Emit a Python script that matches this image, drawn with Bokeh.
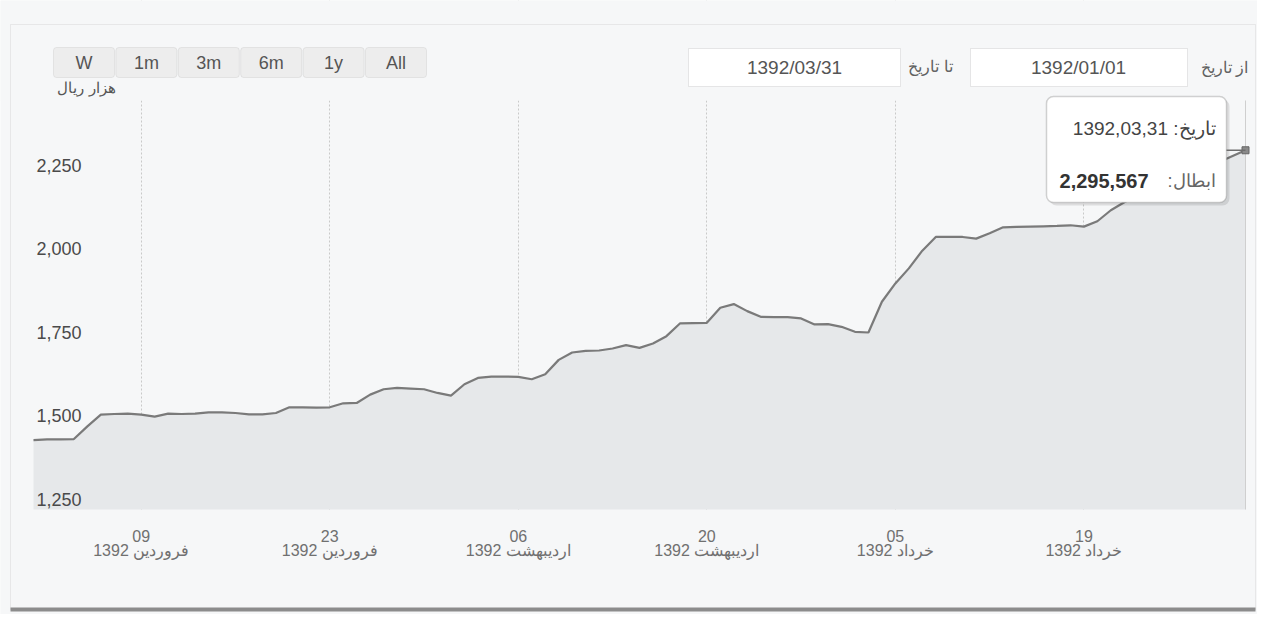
from bokeh.plotting import figure
from bokeh.models import Range1d, FixedTicker, NumeralTickFormatter, Label, BoxAnnotation
from bokeh.embed import file_html
from bokeh.resources import INLINE

# ---------------- data (thousand rials, one value per trading day) ----------------
day_index = list(range(91))
redemption_price = [
    1428, 1430, 1430, 1431, 1469, 1504, 1506, 1507, 1504, 1498,
    1507, 1506, 1507, 1511, 1511, 1509, 1505, 1505, 1509, 1526,
    1526, 1525, 1526, 1538, 1539, 1564, 1580, 1584, 1582, 1580,
    1569, 1561, 1595, 1614, 1618, 1618, 1617, 1610, 1625, 1668,
    1690, 1695, 1696, 1702, 1712, 1704, 1717, 1739, 1777, 1778,
    1779, 1824, 1835, 1814, 1797, 1796, 1796, 1792, 1774, 1775,
    1767, 1752, 1750, 1842, 1897, 1942, 1995, 2036, 2036, 2036,
    2031, 2047, 2065, 2066, 2067, 2068, 2069, 2071, 2067, 2083,
    2116, 2140, 2160, 2180, 2200, 2215, 2230, 2245, 2260, 2278,
    2295.567,
]
x_tick_index = [8, 22, 36, 50, 64, 78]
x_tick_day = ["09", "23", "06", "20", "05", "19"]
x_tick_month = ["فروردین", "فروردین", "اردیبهشت", "اردیبهشت", "خرداد", "خرداد"]
x_tick_year = "1392"
y_ticks = [1250, 1500, 1750, 2000, 2250]
y_unit_title = "هزار ریال"
range_buttons = ["W", "1m", "3m", "6m", "1y", "All"]
from_label, from_date = "از تاریخ", "1392/01/01"
to_label, to_date = "تا تاریخ", "1392/03/31"
tip_date_label, tip_date = "تاریخ: ", "1392,03,31"
tip_value_label, tip_value = "ابطال:\u200f", "2,295,567"

# ---------------- layout (canvas pixels) ----------------
W, H = 1257, 614
PX_FIRST, PX_LAST = 33, 1245          # canvas x of first / last day
PX_TOP, PX_BOTTOM = 100, 509          # canvas y of plot-area top / bottom
V_BOTTOM, V_TOP = 1220, 2444.6        # value range of the plot area
FONT = "Liberation Sans"
BG = "#f6f7f8"

x_per_px = (day_index[-1] - day_index[0]) / (PX_LAST - PX_FIRST)
v_per_px = (V_TOP - V_BOTTOM) / (PX_BOTTOM - PX_TOP)
x_start = day_index[0] - PX_FIRST * x_per_px
x_end = day_index[-1] + (W - PX_LAST) * x_per_px
y_start = V_BOTTOM - (H - PX_BOTTOM) * v_per_px
y_end = V_TOP + PX_TOP * v_per_px

p = figure(width=W, height=H, output_backend="svg", toolbar_location=None,
           x_range=Range1d(x_start, x_end), y_range=Range1d(y_start, y_end),
           min_border_left=0, min_border_right=0, min_border_top=0, min_border_bottom=0,
           background_fill_color=BG, border_fill_color=BG)
p.outline_line_color = None

# grid only inside plot area: cover it above and below
p.quad(left=x_start, right=x_end, bottom=V_TOP, top=y_end, fill_color=BG, line_color=None)
p.quad(left=x_start, right=x_end, bottom=y_start, top=V_BOTTOM, fill_color=BG, line_color=None)

p.varea(x=day_index, y1=V_BOTTOM, y2=redemption_price, fill_color="#e6e8ea")
p.line(day_index, redemption_price, line_color="#7a7a7a", line_width=2.2)
p.segment(x0=[day_index[-1]], y0=[V_BOTTOM], x1=[day_index[-1]], y1=[V_TOP],
          line_color="#cfcfcf", line_width=1)
p.scatter([day_index[-1]], [redemption_price[-1]], size=7, marker="square",
          fill_color="#8a8a8a", line_color="#666666")

# y axis (labels drawn inside the plot)
ya = p.yaxis[0]
ya.ticker = FixedTicker(ticks=y_ticks)
ya.formatter = NumeralTickFormatter(format="0,0")
ya.major_label_standoff = -87
ya.axis_line_color = None
ya.major_tick_line_color = None
ya.minor_tick_line_color = None
ya.major_label_text_font = FONT
ya.major_label_text_font_size = "18px"
ya.major_label_text_color = "#4a4a4a"

xa = p.xaxis[0]
xa.ticker = FixedTicker(ticks=x_tick_index)
xa.major_label_overrides = {t: f"{d}\n{m} {x_tick_year}"
                            for t, d, m in zip(x_tick_index, x_tick_day, x_tick_month)}
xa.major_label_standoff = 521 - H
xa.axis_line_color = None
xa.major_tick_line_color = None
xa.minor_tick_line_color = None
xa.major_label_text_font = FONT
xa.major_label_text_font_size = "16px"
xa.major_label_text_line_height = 0.85
xa.major_label_text_color = "#707070"

p.ygrid.visible = False
p.xgrid.ticker = FixedTicker(ticks=x_tick_index)
p.xgrid.grid_line_color = "#c9c9c9"
p.xgrid.grid_line_dash = "2 2"


def box(l, t, r, b, **kw):
    p.add_layout(BoxAnnotation(left=l, right=r, top=t, bottom=b,
                               left_units="canvas", right_units="canvas",
                               top_units="canvas", bottom_units="canvas", **kw))


def label(x, y, text, size="18px", color="#505050", align="center", style="normal"):
    p.add_layout(Label(x=x, y=y, x_units="canvas", y_units="canvas", text=text,
                       text_font=FONT, text_font_size=size, text_color=color,
                       text_align=align, text_baseline="middle", text_font_style=style))


# container border
box(10, 24, 1255, 609, fill_alpha=0, line_color="#c4c4c4", line_width=1)
box(10, 607, 1255, 611, fill_color="#8c8c8c", fill_alpha=1, line_alpha=0)

# range selector buttons
for i, name in enumerate(range_buttons):
    left = 53 + i * 62.4
    box(left, 47, left + 61, 77, fill_color="#ededed", fill_alpha=1,
        line_color="#bdbdbd", line_width=1, border_radius=3)
    label(left + 30.5, 62, name, size="18px", color="#555555")

label(115, 87, y_unit_title, size="15px", color="#555555", align="right")

# date inputs
box(688, 48, 900, 86, fill_color="#ffffff", fill_alpha=1, line_color="#b3b3b3", line_width=1)
label(794, 67, to_date, size="19px", color="#555555")
label(930, 66, to_label, size="16px", color="#606060")
box(970, 48, 1187, 86, fill_color="#ffffff", fill_alpha=1, line_color="#b3b3b3", line_width=1)
label(1078, 67, from_date, size="19px", color="#555555")
label(1224, 67, from_label, size="16px", color="#606060")

# tooltip
py_last = PX_TOP + (V_TOP - redemption_price[-1]) / v_per_px
box(1049, 99, 1229, 205, fill_color="#000000", fill_alpha=0.10, line_alpha=0, border_radius=7)
box(1046, 96, 1226, 202, fill_color="#ffffff", fill_alpha=1, line_color="#6e6e6e",
    line_width=1.5, border_radius=7)
box(1226, py_last - 0.8, PX_LAST, py_last + 0.8, fill_color="#6e6e6e", fill_alpha=1, line_alpha=0)
label(1215, 128, tip_date_label + tip_date, size="19px", color="#444444", align="right")
label(1215, 180, tip_value_label, size="18px", color="#666666", align="right")
label(1148, 180, tip_value, size="20px", color="#333333", align="right", style="bold")

open("out.html", "w").write(file_html(p, INLINE))
